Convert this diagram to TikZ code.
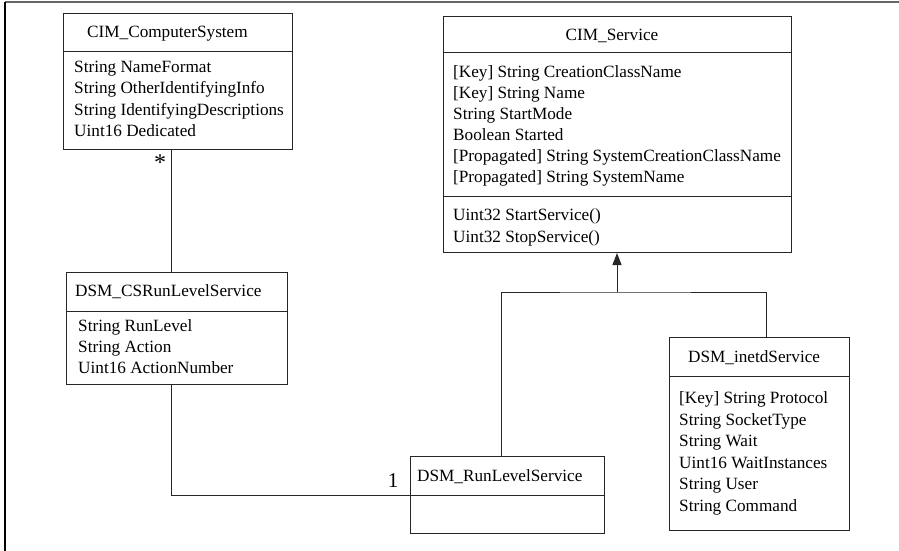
\documentclass[tikz,border=0pt]{standalone}
\usepackage{fontspec}
\setmainfont{Liberation Serif}
\usetikzlibrary{arrows.meta}
\begin{document}
\begin{tikzpicture}[x=1pt,y=-1pt,
  box/.style={draw=black!85, line width=1pt, anchor=north west, inner sep=0pt},
  txt/.style={anchor=base west, inner sep=0pt, font=\fontsize{17.2}{20}\selectfont},
  conn/.style={draw=black!85, line width=1pt},
  mult/.style={inner sep=0pt, font=\fontsize{17.2}{20}\selectfont}]
\useasboundingbox (0,0) rectangle (899,551);
% frame
\draw[line width=1.2pt, black!60] (5,2) -- (899,2);
\draw[line width=1.2pt, black] (5,2) -- (5,551);

% CIM_ComputerSystem
\node[box, minimum width=229pt, minimum height=136pt] (cs) at (63,13) {};
\draw[conn] (cs.west |- 0,52) -- (cs.east |- 0,52);
\node[txt] (cst) at (87,37.5) {CIM\_ComputerSystem};
\foreach \t [count=\i] in {String NameFormat, String OtherIdentifyingInfo, String IdentifyingDescriptions, Uint16 Dedicated}
  \node[txt] (csa\i) at (74,{72.5+21.3*(\i-1)}) {\t};

% CIM_Service
\node[box, minimum width=348pt, minimum height=236pt] (svc) at (443,16) {};
\draw[conn] (svc.west |- 0,53) -- (svc.east |- 0,53);
\draw[conn] (svc.west |- 0,196) -- (svc.east |- 0,196);
\node[txt, anchor=base] (svct) at (612,40.5) {CIM\_Service};
\foreach \t [count=\i] in {[Key] String CreationClassName, [Key] String Name, String StartMode, Boolean Started, [Propagated] String SystemCreationClassName, [Propagated] String SystemName}
  \node[txt] (svca\i) at (453,{77.5+21*(\i-1)}) {\t};
\node[txt] (svcm1) at (453,220.5) {Uint32 StartService()};
\node[txt] (svcm2) at (453,242.5) {Uint32 StopService()};

% DSM_CSRunLevelService
\node[box, minimum width=221pt, minimum height=112pt] (csr) at (66,272) {};
\draw[conn] (csr.west |- 0,311) -- (csr.east |- 0,311);
\node[txt] (csrt) at (75,296.5) {DSM\_CSRunLevelService};
\foreach \t [count=\i] in {String RunLevel, String Action, Uint16 ActionNumber}
  \node[txt] (csra\i) at (78,{331.5+21*(\i-1)}) {\t};

% DSM_RunLevelService
\node[box, minimum width=194pt, minimum height=77pt] (rl) at (410,456) {};
\draw[conn] (rl.west |- 0,495) -- (rl.east |- 0,495);
\node[txt] (rlt) at (417,481.5) {DSM\_RunLevelService};

% DSM_inetdService
\node[box, minimum width=180pt, minimum height=193pt] (inet) at (669,337) {};
\draw[conn] (inet.west |- 0,376) -- (inet.east |- 0,376);
\node[txt] (inett) at (688,362.5) {DSM\_inetdService};
\foreach \t [count=\i] in {[Key] String Protocol, String SocketType, String Wait, Uint16 WaitInstances, String User, String Command}
  \node[txt] (ineta\i) at (679,{403.5+21.6*(\i-1)}) {\t};

% connectors
\coordinate (j1) at (171,0);
\coordinate (j2) at (501,0);
\coordinate (j3) at (766,0);
\coordinate (bus) at (617,292);
\draw[conn] (cs.south -| j1) -- (csr.north -| j1);
\draw[conn] (csr.south -| j1) |- (rl.west);
\draw[conn] (rl.north -| j2) |- (bus) -| (inet.north -| j3);
\draw[conn, -{Triangle[length=12pt,width=9pt]}] (bus) -- (svc.south -| bus);

% multiplicities
\node[mult, anchor=north, font=\fontsize{24}{24}\selectfont] (m1) at (160,155) {*};
\node[mult, anchor=base, font=\fontsize{21}{24}\selectfont] (m2) at (393,487) {1};
\end{tikzpicture}
\end{document}
